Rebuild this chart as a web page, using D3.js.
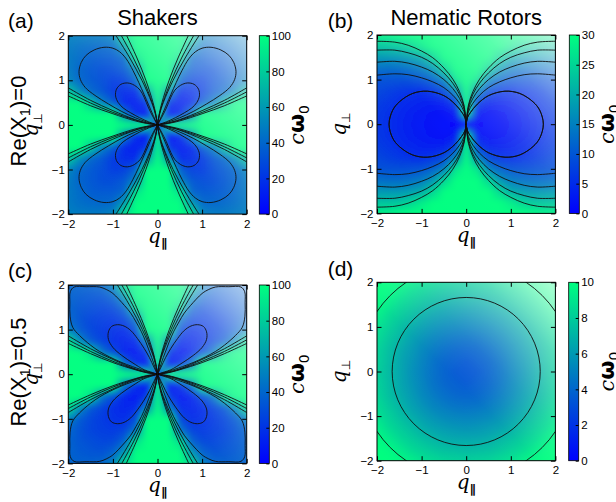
<!DOCTYPE html>
<html>
<head>
<meta charset="utf-8">
<script src="https://cdn.jsdelivr.net/npm/d3@7"></script>
<style>
  body { margin: 0; background: #fff; }
  svg text { font-family: "Liberation Sans", Arial, sans-serif; fill: #000; }
</style>
</head>
<body>
<svg id="fig" width="616" height="502"></svg>
<script>
// ---- data ------------------------------------------------------------
// quadrant grids (q_par, q_perp >= 0), rows = q_perp, cols = q_par
const gridQ = [0, 0.25, 0.5, 0.75, 1, 1.25, 1.5, 1.75, 2];
const qTicks = [-2, -1, 0, 1, 2];

const shakersField0 = [
  [0, 300, 300, 300, 300, 300, 300, 300, 300],
  [300, 5, 15, 48, 100, 150, 220, 280, 300],
  [300, 20, 11, 14, 35, 50, 78, 110, 140],
  [300, 58, 16, 17, 22, 33, 40, 55, 80],
  [300, 115, 37, 25, 23, 30, 35, 40, 52],
  [300, 170, 52, 34, 30, 30, 34, 39, 48],
  [300, 230, 90, 39, 35, 35, 36, 42, 47],
  [300, 270, 130, 62, 41, 40, 41, 43, 48],
  [300, 300, 170, 90, 52, 48, 48, 49, 50]
];
const rotorsField0 = [
  [0, 0.3, 0.8, 1.4, 2.2, 3.0, 4.0, 5.0, 6.1],
  [60, 2.5, 1.3, 1.8, 2.5, 3.3, 4.2, 5.3, 6.4],
  [60, 7, 3.8, 3.3, 3.6, 4.2, 4.9, 6.0, 7.0],
  [60, 16, 8.5, 6, 5.3, 5.5, 6.2, 7.2, 8.2],
  [60, 27, 15, 11.5, 9.7, 9.3, 9.2, 9.3, 9.5],
  [60, 38, 25, 17.5, 14.5, 13, 12.5, 12.5, 12.8],
  [60, 55, 33, 25, 20, 18.5, 17.5, 17.5, 17.8],
  [60, 60, 48, 35, 28, 25, 23.5, 23, 23],
  [60, 60, 60, 48, 38, 32, 29.5, 28.5, 28.5]
];
const shakersField05 = [
  [0, 300, 300, 300, 300, 300, 300, 300, 300],
  [300, 4, 17, 42, 105, 160, 230, 280, 300],
  [300, 22, 9, 13, 28, 45, 88, 120, 150],
  [300, 50, 16, 14, 17, 25, 33, 55, 90],
  [300, 105, 28, 17, 19, 22, 27, 35, 50],
  [300, 160, 45, 26, 22, 24, 26, 32, 40],
  [300, 220, 88, 38, 28, 27, 30, 33, 39],
  [300, 270, 125, 60, 38, 32, 33, 35, 39],
  [300, 300, 160, 88, 52, 40, 38, 38, 40]
];
const rotorsField05 = [
  [3.3, 3.4, 3.8, 4.3, 5.0, 5.7, 6.5, 7.3, 8.1],
  [3.4, 3.6, 3.9, 4.4, 5.1, 5.8, 6.5, 7.4, 8.2],
  [3.8, 3.9, 4.2, 4.7, 5.3, 6.0, 6.7, 7.5, 8.3],
  [4.3, 4.4, 4.7, 5.1, 5.7, 6.3, 7.1, 7.8, 8.6],
  [5.0, 5.1, 5.3, 5.7, 6.2, 6.8, 7.5, 8.2, 8.9],
  [5.7, 5.8, 6.0, 6.3, 6.8, 7.4, 8.0, 8.6, 9.4],
  [6.5, 6.5, 6.7, 7.1, 7.5, 8.0, 8.5, 9.2, 9.9],
  [7.3, 7.4, 7.5, 7.8, 8.2, 8.6, 9.2, 9.8, 10.4],
  [8.1, 8.2, 8.3, 8.6, 8.9, 9.4, 9.9, 10.4, 11.0]
];

const cbTicks100 = [0, 20, 40, 60, 80, 100];
const cbTicks30 = [0, 5, 10, 15, 20, 25, 30];
const cbTicks10 = [0, 2, 4, 6, 8, 10];

// contour lines, first quadrant, mirrored into the other three
const shakersInner0 = [[0,0],[0.2,0.07],[0.4,0.16],[0.6,0.27],[0.77,0.38],[0.88,0.5],[0.94,0.65],[0.92,0.8],[0.82,0.91],[0.67,0.94],[0.52,0.89],[0.39,0.78],[0.3,0.62],[0.2,0.38],[0.09,0.16],[0,0]];
const shakersOuter0 = [[0,0],[0.25,0.07],[0.5,0.16],[0.8,0.3],[1.1,0.47],[1.4,0.66],[1.62,0.84],[1.73,1.02],[1.76,1.2],[1.71,1.4],[1.6,1.56],[1.42,1.68],[1.2,1.74],[1.0,1.72],[0.85,1.64],[0.7,1.48],[0.55,1.22],[0.42,0.95],[0.3,0.68],[0.2,0.45],[0.1,0.22],[0,0]];
const shakersCuts0 = [
  [[0,0],[0.25,0.05],[0.5,0.12],[1,0.32],[1.5,0.55],[2,0.83]],
  [[0,0],[0.25,0.04],[0.5,0.11],[1,0.28],[1.5,0.49],[2,0.74]],
  [[0,0],[0.25,0.035],[0.5,0.09],[1,0.25],[1.5,0.43],[2,0.65]],
  [[0,0],[0.05,0.25],[0.13,0.5],[0.35,1],[0.62,1.5],[0.93,2]],
  [[0,0],[0.045,0.25],[0.12,0.5],[0.31,1],[0.54,1.5],[0.81,2]],
  [[0,0],[0.04,0.25],[0.1,0.5],[0.26,1],[0.46,1.5],[0.69,2]]
];
const shakersInner05 = [[0,0],[0.15,0.05],[0.3,0.1],[0.55,0.25],[0.8,0.42],[1.0,0.6],[1.1,0.78],[1.1,0.95],[1.03,1.07],[0.9,1.11],[0.75,1.08],[0.6,0.98],[0.45,0.8],[0.3,0.58],[0.18,0.37],[0.08,0.16],[0,0]];
const shakersOuter05 = [[0,0],[0.18,0.045],[0.56,0.17],[0.82,0.27],[1.08,0.39],[1.3,0.51],[1.5,0.65],[1.75,0.87],[1.9,1.05],[1.96,1.3],[1.965,1.6],[1.955,1.85],[1.87,1.955],[1.6,1.962],[1.3,1.955],[1.15,1.9],[1.0,1.81],[0.74,1.54],[0.6,1.37],[0.48,1.17],[0.36,0.95],[0.26,0.72],[0.17,0.48],[0.093,0.27],[0.04,0.1],[0,0]];
const shakersCuts05 = [
  [[0,0],[0.25,0.05],[0.5,0.12],[1,0.33],[1.5,0.57],[2,0.86]],
  [[0,0],[0.25,0.04],[0.5,0.11],[1,0.29],[1.5,0.51],[2,0.77]],
  [[0,0],[0.25,0.035],[0.5,0.1],[1,0.26],[1.5,0.46],[2,0.69]],
  [[0,0],[0.05,0.25],[0.13,0.5],[0.34,1],[0.6,1.5],[0.9,2]],
  [[0,0],[0.045,0.25],[0.115,0.5],[0.3,1],[0.53,1.5],[0.8,2]],
  [[0,0],[0.04,0.25],[0.1,0.5],[0.265,1],[0.47,1.5],[0.7,2]]
];
const rotorsInner0 = [[0,0],[0.03,0.15],[0.1,0.27],[0.25,0.45],[0.5,0.64],[0.87,0.74],[1.2,0.69],[1.5,0.5],[1.65,0.31],[1.73,0],[1.65,-0.31],[1.5,-0.5],[1.2,-0.69],[0.87,-0.74],[0.5,-0.64],[0.25,-0.45],[0.1,-0.27],[0.03,-0.15],[0,0]];
const rotorsArcs0 = [
  [[0,0],[0.05,0.28],[0.15,0.47],[0.3,0.65],[0.5,0.82],[0.75,0.95],[1,1.04],[1.3,1.11],[1.6,1.13],[2,1.1]],
  [[0,0],[0.05,0.34],[0.15,0.58],[0.3,0.8],[0.5,1.0],[0.75,1.17],[1,1.28],[1.3,1.37],[1.6,1.41],[2,1.39]],
  [[0,0],[0.05,0.39],[0.15,0.67],[0.3,0.92],[0.5,1.15],[0.75,1.36],[1,1.5],[1.3,1.6],[1.6,1.66],[2,1.66]],
  [[0,0],[0.05,0.43],[0.15,0.73],[0.3,1.01],[0.5,1.26],[0.75,1.49],[1,1.64],[1.3,1.77],[1.6,1.84],[2,1.86]]
];
const rotorsCircles05 = [1.66, 2.41];

// ---- drawing ---------------------------------------------------------
const svg = d3.select("#fig");
const defs = svg.append("defs");
const winter = d3.interpolateRgb("#0000ff", "#00ff80");
const mirrors = [[1, 1], [-1, 1], [1, -1], [-1, -1]];
const size = 178.4;
const fmt = d3.format("d");

const light = defs.append("linearGradient").attr("id", "light")
  .attr("x1", 0).attr("y1", 1).attr("x2", 1).attr("y2", 0);
[[0, 0], [0.45, 0.03], [0.6, 0.14], [0.8, 0.35], [1, 0.68]].forEach(s =>
  light.append("stop").attr("offset", s[0]).attr("stop-color", "#fff").attr("stop-opacity", s[1]));

const cbar = defs.append("linearGradient").attr("id", "cbar")
  .attr("x1", 0).attr("y1", 1).attr("x2", 0).attr("y2", 0);
cbar.append("stop").attr("offset", 0).attr("stop-color", winter(0));
cbar.append("stop").attr("offset", 1).attr("stop-color", winter(1));

defs.append("filter").attr("id", "soft")
  .attr("x", 0).attr("y", 0).attr("width", 1).attr("height", 1)
  .append("feGaussianBlur").attr("stdDeviation", 2.5).attr("edgeMode", "duplicate");

function fieldImage(quad, vmax) {
  const n = quad.length, N = 2 * n - 1;
  const canvas = document.createElement("canvas");
  canvas.width = N; canvas.height = N;
  const ctx = canvas.getContext("2d");
  const img = ctx.createImageData(N, N);
  for (let r = 0; r < N; r++) {
    for (let c = 0; c < N; c++) {
      const v = quad[Math.abs(n - 1 - r)][Math.abs(c - (n - 1))];
      const col = d3.rgb(winter(Math.max(0, Math.min(1, v / vmax))));
      const k = 4 * (r * N + c);
      img.data[k] = col.r; img.data[k + 1] = col.g; img.data[k + 2] = col.b; img.data[k + 3] = 255;
    }
  }
  ctx.putImageData(img, 0, 0);
  return canvas.toDataURL();
}

const panels = [
  { key: "a", left: 68.3, top: 35.7, field: shakersField0, vmax: 100, cbTicks: cbTicks100,
    lines: [shakersInner0, shakersOuter0, ...shakersCuts0], cbLeft: 259.3, ylabDx: 30,
    letter: "(a)", lx: 8, ly: 28 },
  { key: "b", left: 377, top: 35, field: rotorsField0, vmax: 30, cbTicks: cbTicks30,
    lines: [rotorsInner0, ...rotorsArcs0], cbLeft: 569.3, ylabDx: 31.5,
    letter: "(b)", lx: 327.7, ly: 28 },
  { key: "c", left: 68.3, top: 285, field: shakersField05, vmax: 100, cbTicks: cbTicks100,
    lines: [shakersInner05, shakersOuter05, ...shakersCuts05], cbLeft: 259.3, ylabDx: 30,
    letter: "(c)", lx: 8, ly: 278 },
  { key: "d", left: 377, top: 282.3, field: rotorsField05, vmax: 10, cbTicks: cbTicks10,
    lines: [], circles: rotorsCircles05, cbLeft: 568.7, ylabDx: 31.5,
    letter: "(d)", lx: 327.7, ly: 276 }
];

const half = (gridQ[1] - gridQ[0]) / 2;

panels.forEach(p => {
  const g = svg.append("g");
  const xs = d3.scaleLinear([-2, 2], [p.left, p.left + size]);
  const ys = d3.scaleLinear([-2, 2], [p.top + size, p.top]);

  defs.append("clipPath").attr("id", "clip-" + p.key).append("rect")
    .attr("x", p.left).attr("y", p.top).attr("width", size).attr("height", size);
  const plot = g.append("g").attr("clip-path", `url(#clip-${p.key})`);

  plot.append("image")
    .attr("href", fieldImage(p.field, p.vmax))
    .attr("x", xs(-2 - half)).attr("y", ys(2 + half))
    .attr("width", xs(2 + half) - xs(-2 - half))
    .attr("height", ys(-2 - half) - ys(2 + half))
    .attr("preserveAspectRatio", "none")
    .attr("filter", "url(#soft)");

  plot.append("rect").attr("x", p.left).attr("y", p.top)
    .attr("width", size).attr("height", size).attr("fill", "url(#light)");

  p.lines.forEach(pts => {
    mirrors.forEach(([sx, sy]) => {
      const line = d3.line()
        .x(d => xs(sx * d[0])).y(d => ys(sy * d[1]))
        .curve(d3.curveCatmullRom.alpha(0.5));
      plot.append("path").attr("d", line(pts))
        .attr("fill", "none").attr("stroke", "#111").attr("stroke-width", 0.9);
    });
  });
  (p.circles || []).forEach(rad => {
    plot.append("circle").attr("cx", xs(0)).attr("cy", ys(0))
      .attr("r", xs(rad) - xs(0))
      .attr("fill", "none").attr("stroke", "#111").attr("stroke-width", 0.9);
  });

  // axes, ticks inward on all sides
  const font = sel => sel.attr("font-family", "Liberation Sans, Arial, sans-serif").attr("font-size", 11.5);
  const bottom = g.append("g").attr("transform", `translate(0,${p.top + size})`)
    .call(d3.axisBottom(xs).tickValues(qTicks).tickFormat(fmt).tickSizeInner(-4.5).tickSizeOuter(0).tickPadding(5.3));
  const leftAx = g.append("g").attr("transform", `translate(${p.left},0)`)
    .call(d3.axisLeft(ys).tickValues(qTicks).tickFormat(fmt).tickSizeInner(-4.5).tickSizeOuter(0).tickPadding(3.5));
  const topAx = g.append("g").attr("transform", `translate(0,${p.top})`)
    .call(d3.axisTop(xs).tickValues(qTicks).tickSizeInner(-4.5).tickSizeOuter(0).tickFormat(""));
  const rightAx = g.append("g").attr("transform", `translate(${p.left + size},0)`)
    .call(d3.axisRight(ys).tickValues(qTicks).tickSizeInner(-4.5).tickSizeOuter(0).tickFormat(""));
  [bottom, leftAx, topAx, rightAx].forEach(a => {
    font(a); a.select(".domain").remove();
    a.selectAll("line").attr("stroke", "#000").attr("stroke-width", 1);
    a.selectAll("text").attr("fill", "#000");
  });

  g.append("rect").attr("x", p.left).attr("y", p.top).attr("width", size).attr("height", size)
    .attr("fill", "none").attr("stroke", "#000").attr("stroke-width", 1);

  // axis labels
  const xl = g.append("text").attr("x", xs(0)).attr("y", p.top + size + 28.5)
    .attr("text-anchor", "middle");
  xl.append("tspan").attr("font-family", "DejaVu Serif, serif").attr("font-style", "italic")
    .attr("font-size", 20).text("q");
  xl.append("tspan").attr("font-family", "DejaVu Sans, sans-serif").attr("font-size", 12)
    .attr("font-weight", "bold").attr("baseline-shift", "-4").text("\u2225");

  const yx = p.left - p.ylabDx, yy = ys(0);
  const yl = g.append("text").attr("transform", `translate(${yx},${yy}) rotate(-90)`)
    .attr("text-anchor", "middle");
  yl.append("tspan").attr("font-family", "DejaVu Serif, serif").attr("font-style", "italic")
    .attr("font-size", 20).text("q");
  yl.append("tspan").attr("font-family", "DejaVu Sans, sans-serif").attr("font-size", 12)
    .attr("baseline-shift", "-4").text("\u22a5");

  // colorbar
  const cs = d3.scaleLinear([0, p.vmax], [p.top + size, p.top]);
  g.append("rect").attr("x", p.cbLeft).attr("y", p.top).attr("width", 10).attr("height", size)
    .attr("fill", "url(#cbar)").attr("stroke", "#000").attr("stroke-width", 0.8);
  const cax = g.append("g").attr("transform", `translate(${p.cbLeft + 10},0)`)
    .call(d3.axisRight(cs).tickValues(p.cbTicks).tickFormat(fmt).tickSizeInner(-3).tickSizeOuter(0).tickPadding(2.5));
  font(cax); cax.select(".domain").remove();
  cax.selectAll("line").attr("stroke", "#000");
  cax.selectAll("text").attr("fill", "#000");

  const cl = g.append("text")
    .attr("transform", `translate(${p.cbLeft + 45},${p.top + size / 2}) rotate(-90)`)
    .attr("text-anchor", "middle");
  cl.append("tspan").attr("font-family", "DejaVu Serif, serif").attr("font-style", "italic")
    .attr("font-size", 21).text("c");
  cl.append("tspan").attr("font-family", "DejaVu Sans, sans-serif").attr("font-size", 22)
    .attr("font-weight", "bold").text("\u03c9");
  cl.append("tspan").attr("font-family", "DejaVu Sans, sans-serif").attr("font-size", 14)
    .attr("baseline-shift", "-5").text("0");

  g.append("text").attr("x", p.lx).attr("y", p.ly).attr("font-size", 21).text(p.letter);
});

// column titles and row labels
svg.append("text").attr("x", 157.5).attr("y", 25).attr("text-anchor", "middle")
  .attr("font-size", 22).text("Shakers");
svg.append("text").attr("x", 466.2).attr("y", 25).attr("text-anchor", "middle")
  .attr("font-size", 22).text("Nematic Rotors");

[["0", 121], ["0.5", 372]].forEach(([val, cy]) => {
  const t = svg.append("text").attr("transform", `translate(26,${cy}) rotate(-90)`)
    .attr("text-anchor", "middle").attr("font-size", 22);
  t.append("tspan").text("Re(X");
  t.append("tspan").attr("font-size", 15).attr("baseline-shift", "-4").text("1");
  t.append("tspan").text(")=" + val);
});
</script>
</body>
</html>
